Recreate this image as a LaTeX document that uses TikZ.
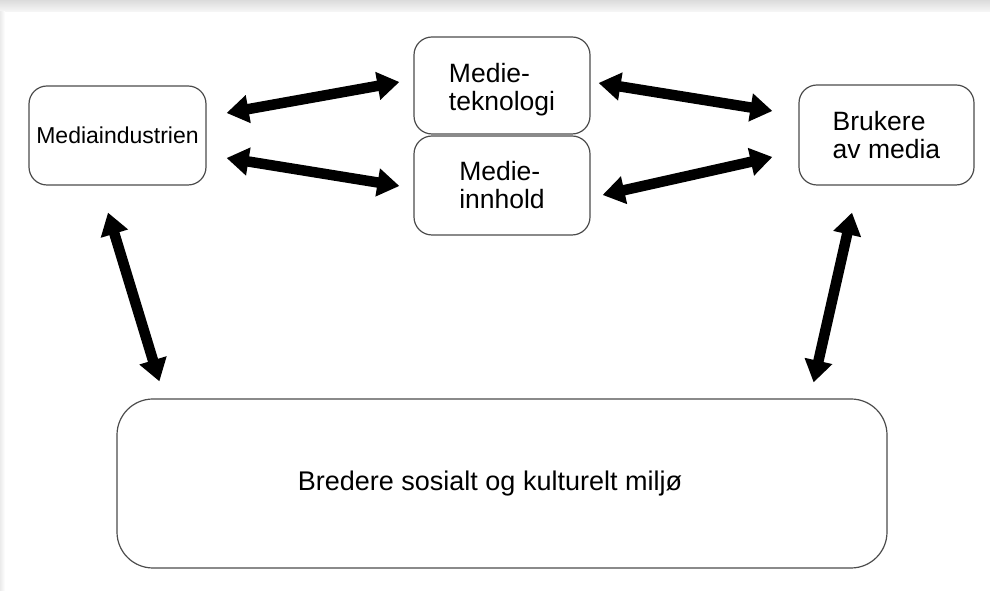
\documentclass[tikz,border=0pt]{standalone}
\usepackage{fontspec}
\setmainfont{Liberation Sans}
\usetikzlibrary{arrows.meta,calc}
\begin{document}
\begin{tikzpicture}[x=1pt,y=1pt,>={Triangle[length=22pt,width=27pt]},line join=round,
		boks/.style={draw=black!70,line width=1.2pt,rounded corners=18pt,align=left,inner sep=0pt},
		pil/.style={<->,line width=10.5pt}]
	\useasboundingbox (0,0) rectangle (990,591);
	% skjermkant
	\shade[top color=black!14,bottom color=black!3] (0,579) rectangle (990,591);
	\shade[left color=black!8,right color=white] (0,0) rectangle (5,579);
	% boksene
	\node[boks,minimum width=177pt,minimum height=99pt,font=\fontsize{23}{26}\selectfont] (mi) at (117.5,455.5) {Mediaindustrien};
	\node[boks,minimum width=176pt,minimum height=97pt] (tek) at (502,505.5) {};
	\node[align=left,font=\fontsize{26.5}{28}\selectfont] (tektekst) at (502,501) {Medie-\\teknologi};
	\node[boks,minimum width=176pt,minimum height=99pt,font=\fontsize{26.5}{28}\selectfont] (inn) at (502,405.5) {Medie-\\innhold};
	\node[boks,minimum width=175pt,minimum height=100pt,font=\fontsize{26.5}{28}\selectfont] (bru) at (886.5,456) {Brukere\\av media};
	\node[boks,rounded corners=36pt,minimum width=770pt,minimum height=169pt] (mil) at (502,107.5) {};
	\node[font=\fontsize{27}{30}\selectfont] (miltekst) at (490,107.5) {Bredere sosialt og kulturelt miljø};
	% pilene
	\draw[pil] ($(mi.east)+(20,22.5)$) -- ($(tek.west)+(-14,3.5)$);
	\draw[pil] ($(mi.east)+(20,-22.5)$) -- ($(inn.west)+(-14,-0.5)$);
	\draw[pil] ($(tek.east)+(8,2.5)$) -- ($(bru.west)+(-26,24)$);
	\draw[pil] ($(inn.east)+(12,-9.5)$) -- ($(bru.west)+(-26,-22)$);
	\draw[pil] ($(mi.south)+(-9.5,-27)$) -- ($(mil.north west)+(43,17)$);
	\draw[pil] ($(bru.south)+(-34.5,-27)$) -- ($(mil.north east)+(-74,16)$);
\end{tikzpicture}
\end{document}
